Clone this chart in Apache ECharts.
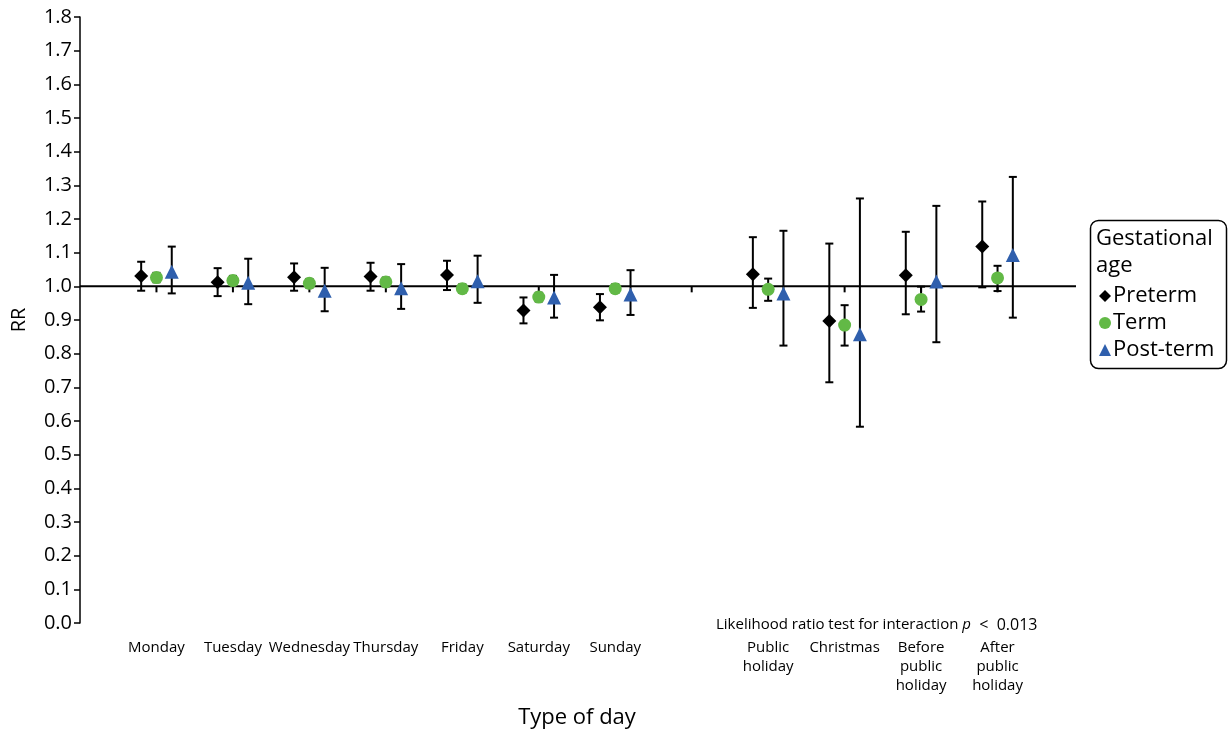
<!DOCTYPE html>
<html>
<head>
<meta charset="utf-8">
<script src="https://cdn.jsdelivr.net/npm/echarts@6/dist/echarts.min.js"></script>
<style>
html,body{margin:0;padding:0;background:#fff;}
#chart{width:1232px;height:736px;}
</style>
</head>
<body>
<div id="chart"></div>
<script>
// Category labels at positions 1..12 (position 8 is an empty gap)
const categories = ['Monday','Tuesday','Wednesday','Thursday','Friday','Saturday','Sunday','',
  'Public\nholiday','Christmas','Before\npublic\nholiday','After\npublic\nholiday'];
const yTicks = [0,0.1,0.2,0.3,0.4,0.5,0.6,0.7,0.8,0.9,1.0,1.1,1.2,1.3,1.4,1.5,1.6,1.7,1.8];

const pretermRR = [1.031,1.012,1.027,1.029,1.034,0.928,0.938,null,1.036,0.897,1.033,1.118];
const pretermLo = [0.987,0.971,0.987,0.987,0.989,0.890,0.899,null,0.936,0.715,0.917,0.997];
const pretermHi = [1.073,1.054,1.068,1.070,1.076,0.967,0.977,null,1.146,1.127,1.162,1.252];

const termRR = [1.026,1.017,1.009,1.013,0.993,0.968,0.993,null,0.991,0.885,0.961,1.025];
const termLo = [1.012,1.003,0.996,1.000,0.981,0.955,0.981,null,0.957,0.824,0.925,0.986];
const termHi = [1.040,1.031,1.022,1.026,1.006,0.981,1.006,null,1.023,0.944,0.999,1.061];

const postRR = [1.043,1.011,0.987,0.994,1.015,0.967,0.976,null,0.979,0.858,1.014,1.093];
const postLo = [0.979,0.947,0.926,0.933,0.951,0.907,0.915,null,0.824,0.583,0.834,0.907];
const postHi = [1.118,1.082,1.055,1.066,1.091,1.034,1.048,null,1.165,1.261,1.239,1.325];

const seriesNames = ['Preterm','Term','Post-term'];
const colors = ['#000000','#62b946','#2f5fad'];
const symbols = ['diamond','circle','triangle'];
const offsets = [-0.2, 0, 0.2];

const FONT = 'Open Sans';

function points(rr, off){
  const out = [];
  rr.forEach((v,i)=>{ if(v!=null) out.push([i+1+off, v]); });
  return out;
}
function bars(lo, hi, off){
  const out = [];
  lo.forEach((v,i)=>{ if(v!=null) out.push([i+1+off, v, hi[i]]); });
  return out;
}
function renderErr(params, api){
  const x = api.value(0);
  const p1 = api.coord([x, api.value(1)]);
  const p2 = api.coord([x, api.value(2)]);
  const hw = 4;
  const st = {stroke:'#000', lineWidth:2};
  return {type:'group', children:[
    {type:'line', shape:{x1:p1[0],y1:p1[1],x2:p2[0],y2:p2[1]}, style:st},
    {type:'line', shape:{x1:p1[0]-hw,y1:p1[1],x2:p1[0]+hw,y2:p1[1]}, style:st},
    {type:'line', shape:{x1:p2[0]-hw,y1:p2[1],x2:p2[0]+hw,y2:p2[1]}, style:st}
  ]};
}
function renderRef(params, api){
  const a = api.coord([api.value(0), api.value(2)]);
  const b = api.coord([api.value(1), api.value(2)]);
  const st = {stroke:'#000', lineWidth:2};
  const ch = [{type:'line', shape:{x1:a[0],y1:a[1],x2:b[0]+2,y2:b[1]}, style:st}];
  for(let k=1;k<=categories.length;k++){
    const p = api.coord([k, api.value(2)]);
    ch.push({type:'line', shape:{x1:p[0],y1:p[1],x2:p[0],y2:p[1]+6}, style:st});
  }
  return {type:'group', children:ch};
}

const rrs = [pretermRR, termRR, postRR];
const los = [pretermLo, termLo, postLo];
const his = [pretermHi, termHi, postHi];

const series = [{
  type:'custom', name:'ref', renderItem: renderRef, data:[[0, categories.length+1, 1.0]],
  z:1, silent:true, clip:false
}];
for(let s=0;s<3;s++){
  series.push({type:'custom', name:'err'+s, renderItem: renderErr, data: bars(los[s], his[s], offsets[s]), z:2, silent:true});
}
for(let s=0;s<3;s++){
  series.push({type:'scatter', name: seriesNames[s], data: points(rrs[s], offsets[s]),
    symbol: symbols[s], symbolSize: s===0 ? 14 : (s===1 ? 13 : 14),
    itemStyle:{color: colors[s], opacity:1}, z:3});
}

const chart = echarts.init(document.getElementById('chart'));
chart.setOption({
  animation:false,
  backgroundColor:'#fff',
  textStyle:{fontFamily:FONT},
  grid:{left:80, right:158, top:17, bottom:113, containLabel:false},
  xAxis:{
    type:'value', min:0, max:categories.length+1, interval:1,
    name:'Type of day', nameLocation:'middle', nameGap:84,
    nameTextStyle:{fontSize:22, color:'#000', fontFamily:FONT},
    axisLine:{show:false}, axisTick:{show:false}, splitLine:{show:false},
    axisLabel:{
      margin:15, fontSize:15, color:'#000', fontFamily:FONT, lineHeight:19,
      showMinLabel:true, showMaxLabel:true,
      formatter: v => (v>=1 && v<=categories.length) ? categories[v-1] : ''
    }
  },
  yAxis:{
    type:'value', min:yTicks[0], max:yTicks[yTicks.length-1], interval:0.1,
    name:'RR', nameLocation:'middle', nameGap:51,
    nameTextStyle:{fontSize:20, color:'#000', fontFamily:FONT},
    axisLine:{show:true, lineStyle:{color:'#000', width:1.5}},
    axisTick:{show:true, length:6, lineStyle:{color:'#000', width:1.5}},
    splitLine:{show:false},
    axisLabel:{fontSize:20, color:'#000', fontFamily:FONT, margin:8, formatter: v => v.toFixed(1)}
  },
  legend:{
    data: seriesNames, orient:'vertical', left:1094, top:280,
    itemWidth:12, itemHeight:12, itemGap:5,
    textStyle:{fontSize:22, color:'#000', fontFamily:FONT, padding:[0,0,0,-3]},
    selectedMode:false
  },
  graphic:[
    {type:'rect', left:1088, top:218, shape:{width:136, height:148, r:8},
      style:{fill:'none', stroke:'#000', lineWidth:1.5}},
    {type:'text', left:1096, top:225, style:{text:'Gestational\nage', fontSize:22, lineHeight:27, fill:'#000', fontFamily:FONT}},
    {type:'text', left:716, top:617, style:{
      text:'{n|Likelihood ratio test for interaction }{i|p}{m|  <  0.013}',
      rich:{n:{fontSize:15, fill:'#000', fontFamily:FONT},
            i:{fontSize:15, fill:'#000', fontStyle:'italic', fontFamily:FONT},
            m:{fontSize:16, fill:'#000', fontFamily:FONT}}
    }}
  ],
  series: series
});
</script>
</body>
</html>
